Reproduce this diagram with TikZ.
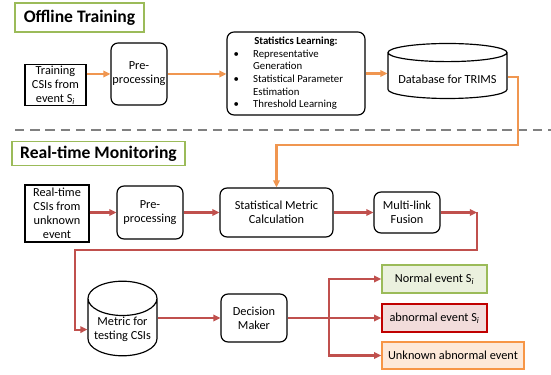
\documentclass[tikz,border=0pt]{standalone}
\usepackage{fontspec}
\setmainfont{Carlito}
\usetikzlibrary{arrows.meta,positioning,shapes.geometric,calc}

\definecolor{arrorange}{RGB}{240,150,80}
\definecolor{arrred}{RGB}{192,80,77}
\definecolor{titlegreen}{RGB}{155,187,89}
\definecolor{normfill}{RGB}{235,241,222}
\definecolor{abnline}{RGB}{192,0,0}
\definecolor{abnfill}{RGB}{242,220,219}
\definecolor{unkline}{RGB}{247,150,70}
\definecolor{unkfill}{RGB}{253,233,217}
\definecolor{sepgray}{RGB}{128,128,128}

\begin{document}
\begin{tikzpicture}[
  x=0.03cm, y=-0.03cm,
  every node/.style={font=\fontsize{10.5}{12}\selectfont},
  title/.style={rectangle, draw=titlegreen, line width=1.2pt,
                font=\fontsize{15}{18}\selectfont\bfseries, inner sep=0pt},
  sqbox/.style={rectangle, draw, line width=1pt, align=center, inner sep=1pt},
  box/.style={rectangle, draw, rounded corners=6pt, line width=1pt,
              align=center, inner sep=1pt},
  db/.style={cylinder, shape border rotate=90, draw, line width=1pt,
             align=center, inner sep=1pt, anchor=shape center},
  res/.style={rectangle, line width=1.3pt, inner sep=0pt},
  oarr/.style={draw=arrorange, line width=1.8pt,
               -{Triangle[length=6pt,width=5.5pt]}},
  rarr/.style={draw=arrred, line width=1.8pt,
               -{Triangle[length=6pt,width=5.5pt]}},
  rline/.style={draw=arrred, line width=1.8pt}
]
\useasboundingbox (0,0) rectangle (551,375);

% offline training
\node[title, minimum width=3.87cm, minimum height=0.87cm] (offt) at (79.5,17.5)
  {Offline Training};
\node[sqbox, minimum width=1.83cm, minimum height=1.2cm] (train) at (55.5,85)
  {Training\\CSIs from\\event S\textsubscript{\itshape i}};
\node[box, minimum width=1.68cm, minimum height=1.86cm] (pre) at (139,74)
  {Pre-\\processing};
\node[box, minimum width=4.14cm, minimum height=2.49cm] (stat) at (296,73.5)
  {\fontsize{9.2}{10.8}\selectfont
   \begin{tabular}{@{}l@{\hspace{12pt}}l@{\hspace{13pt}}}
   \multicolumn{2}{@{}c@{}}{\bfseries Statistics Learning:}\\
   \textbullet & Representative\\
               & Generation\\
   \textbullet & Statistical Parameter\\
               & Estimation\\
   \textbullet & Threshold Learning
   \end{tabular}};
\node[db, minimum width=3.57cm, minimum height=1.65cm, aspect=0.18] (base) at (447.5,71)
  {\phantom{Database for TRIMS}};
\node (basetxt) at (447.5,79) {Database for TRIMS};

\draw[oarr] (train.east |- pre.west) -- (pre.west);
\draw[oarr] (pre) -- (stat.west |- pre);
\draw[oarr] (stat.east) -- (stat.east -| base.west);

% separator
\coordinate (sepl) at (15,130);
\coordinate (sepr) at (551,130);
\draw[sepgray, line width=2.5pt, dash pattern=on 8pt off 5pt] (sepl) -- (sepr);

% real-time monitoring
\node[title, minimum width=5.19cm, minimum height=0.72cm] (rtm) at (98.5,153.5)
  {Real-time Monitoring};
\node[sqbox, minimum width=1.92cm, minimum height=1.71cm] (rcsi) at (57,213.5)
  {Real-time\\CSIs from\\unknown\\event};
\node[box, minimum width=1.98cm, minimum height=1.59cm] (pre2) at (150,212.5)
  {Pre-\\processing};
\node[box, minimum width=3.39cm, minimum height=1.47cm] (calc) at (276.5,212.5)
  {Statistical Metric\\Calculation};
\node[box, minimum width=1.98cm, minimum height=1.23cm] (fus) at (407,212.5)
  {Multi-link\\Fusion};
\node[db, minimum width=2.07cm, minimum height=2.0cm, aspect=0.58] (met) at (122.5,318.5)
  {Metric for\\testing CSIs};
\node[box, minimum width=1.98cm, minimum height=1.44cm] (dec) at (254,318)
  {Decision\\Maker};
\node[res, draw=titlegreen, fill=normfill, minimum width=3.15cm, minimum height=0.84cm]
  (norm) at (434.5,279) {Normal event S\textsubscript{\itshape i}};
\node[res, draw=abnline, fill=abnfill, minimum width=3.15cm, minimum height=0.84cm]
  (abn) at (434.5,318) {abnormal event S\textsubscript{\itshape i}};
\node[res, draw=unkline, fill=unkfill, minimum width=4.26cm, minimum height=0.81cm]
  (unk) at (453,355.5) {Unknown abnormal event};

\coordinate (dbout) at (518,145);
\draw[oarr] (base.east) -| (dbout) -| (calc.north);

\draw[rarr] (rcsi.east |- pre2) -- (pre2);
\draw[rarr] (pre2) -- (calc);
\draw[rarr] (calc) -- (fus);
\coordinate (turn) at (477,212.5);
\coordinate (back) at (75,250);
\draw[rarr] (fus) -- (turn);
\draw[rarr] (turn) |- (back) |- (met.west);
\draw[rarr] (met.east |- dec) -- (dec);

\coordinate (split) at (329,318);
\draw[rarr] (dec) -- (abn);
\draw[rarr] (split) |- (norm);
\draw[rarr] (split) |- (unk);
\end{tikzpicture}
\end{document}
